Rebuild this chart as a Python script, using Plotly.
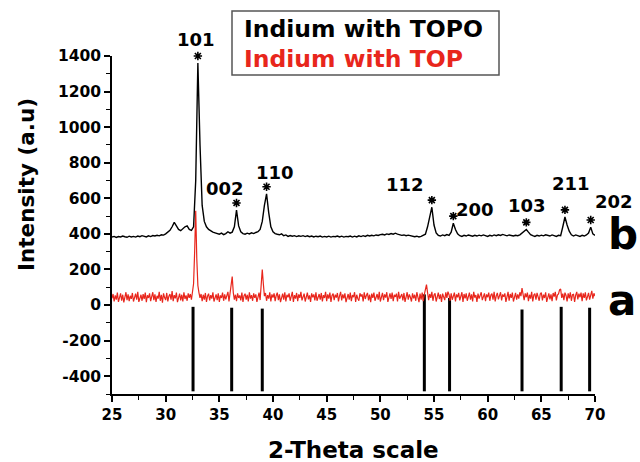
import numpy as np
import plotly.graph_objects as go

# curve b: Indium with TOPO (black), sampled every 0.2 degree from 25 to 70
topo_step = 0.2
topo = [
    382, 386, 380, 385, 383, 388, 384, 381, 387, 383,
    386, 382, 388, 384, 390, 386, 383, 389, 385, 391,
    388, 392, 389, 395, 393, 400, 408, 420, 440, 465,
    445, 425, 418, 430, 440, 445, 425, 420, 440, 700,
    1360, 900, 560, 470, 440, 425, 415, 410, 406, 402,
    398, 404, 396, 402, 412, 404, 410, 440, 534, 445,
    412, 402, 398, 404, 400, 406, 402, 408, 412, 425,
    470, 560, 625, 520, 440, 412, 402, 398, 395, 400,
    390, 394, 386, 391, 387, 390, 385, 389, 386, 390,
    385, 389, 384, 388, 383, 387, 384, 388, 382, 386,
    383, 387, 382, 386, 384, 388, 383, 387, 382, 386,
    384, 388, 382, 387, 383, 389, 385, 390, 386, 392,
    388, 392, 389, 394, 391, 396, 398, 394, 400, 397,
    402, 398, 404, 399, 396, 392, 394, 390, 393, 389,
    388, 384, 387, 383, 386, 390, 398, 440, 500, 550,
    450, 405, 392, 388, 394, 390, 396, 392, 410, 460,
    425, 400, 390, 386, 392, 388, 394, 390, 387, 392,
    388, 393, 389, 394, 390, 386, 392, 388, 394, 390,
    395, 391, 397, 393, 389, 394, 390, 388, 392, 390,
    395, 405, 418, 425, 410, 396, 390, 386, 392, 388,
    393, 389, 395, 391, 388, 394, 390, 386, 392, 390,
    440, 495, 450, 415, 395, 388, 394, 390, 386, 392,
    388, 394, 405, 438, 400, 392,
]

# curve a: Indium with TOP (red), sampled every 0.1 degree from 25 to 70
top_step = 0.1
top = [
    38, 62, 20, 55, 30, 70, 18, 48, 66, 25,
    58, 15, 44, 72, 28, 60, 22, 52, 35, 68,
    20, 50, 64, 30, 75, 18, 46, 58, 24, 62,
    34, 70, 16, 55, 40, 66, 22, 48, 72, 28,
    60, 18, 52, 36, 74, 24, 58, 14, 66, 42,
    28, 68, 20, 50, 62, 30, 78, 22, 56, 38,
    70, 16, 48, 64, 26, 58, 20, 72, 34, 54,
    24, 66, 40, 62, 30, 80, 120, 300, 530, 260,
    110, 70, 40, 62, 22, 58, 30, 68, 18, 50,
    64, 26, 56, 36, 72, 20, 48, 60, 28, 66,
    18, 54, 40, 70, 24, 60, 32, 52, 74, 20,
    62, 110, 160, 70, 30, 58, 22, 66, 40, 54,
    26, 70, 18, 52, 64, 30, 58, 20, 72, 36,
    56, 24, 66, 40, 60, 18, 50, 70, 28, 95,
    200, 120, 50, 68, 24, 56, 36, 72, 20, 60,
    42, 66, 22, 54, 70, 28, 60, 16, 50, 64,
    30, 72, 20, 58, 44, 66, 24, 52, 74, 18,
    56, 36, 68, 22, 60, 40, 74, 26, 50, 64,
    20, 58, 70, 32, 54, 18, 66, 44, 60, 26,
    72, 24, 50, 62, 30, 68, 20, 56, 40, 74,
    22, 60, 36, 70, 18, 54, 64, 28, 58, 42,
    68, 20, 52, 74, 26, 60, 38, 66, 16, 50,
    62, 30, 70, 22, 56, 44, 72, 18, 58, 36,
    24, 66, 48, 60, 20, 72, 34, 54, 68, 26,
    58, 16, 64, 40, 70, 24, 52, 62, 30, 74,
    20, 56, 68, 28, 60, 42, 72, 18, 50, 66,
    34, 70, 22, 58, 46, 64, 20, 74, 36, 54,
    62, 26, 68, 18, 56, 72, 30, 60, 44, 20,
    66, 38, 58, 24, 72, 50, 16, 64, 30, 70,
    22, 60, 90, 115, 70, 28, 62, 40, 74, 24,
    56, 66, 20, 52, 70, 34, 60, 18, 64, 46,
    28, 72, 40, 75, 58, 24, 66, 30, 54, 70,
    20, 60, 44, 68, 26, 56, 72, 18, 62, 38,
    66, 24, 54, 70, 30, 60, 20, 74, 42, 56,
    18, 64, 36, 58, 72, 28, 50, 66, 22, 60,
    44, 70, 24, 56, 64, 30, 74, 20, 52, 68,
    32, 58, 72, 26, 60, 46, 66, 18, 56, 74,
    24, 62, 40, 70, 20, 54, 68, 30, 60, 36,
    72, 50, 95, 60, 28, 66, 44, 70, 22, 58,
    36, 74, 20, 56, 64, 30, 68, 46, 24, 62,
    70, 26, 58, 40, 72, 18, 54, 66, 32, 60,
    22, 68, 48, 74, 26, 56, 62, 85, 90, 40,
    64, 28, 70, 54, 20, 66, 38, 72, 24, 58,
    60, 18, 56, 74, 32, 64, 44, 70, 22, 66,
    40, 72, 26, 58, 68, 30, 62, 80, 36, 66,
    50,
]

# reference pattern sticks
stick_pos = [32.55, 36.15, 39.0, 54.1, 56.45, 63.2, 66.85, 69.5]
stick_top = [-10, -15, -20, 60, 40, -25, -10, -15]
stick_bottom = -485

# hkl peak markers on curve b
star_pos = [33.0, 36.6, 39.4, 54.8, 56.8, 63.6, 67.2, 69.6]
star_gap = 40  # intensity units between a peak top and its star
hkl_labels = ["101", "002", "110", "112", "200", "103", "211", "202"]
# label centres in page pixels (x, y)
hkl_px = [(196, 39), (225, 188), (275, 172), (405, 185), (475, 209), (527, 205), (571, 183), (614, 201)]

# axis ticks
x_ticks = [25, 30, 35, 40, 45, 50, 55, 60, 65, 70]
y_ticks = [-400, -200, 0, 200, 400, 600, 800, 1000, 1200, 1400]
y_tick_text = ["-400", "-200", "0", "200", "400", "600", "800", "1000", "1200", "1400"]

W, H = 640, 462
ML, MR, MT, MB = 112, 45, 56, 68
PW, PH = W - ML - MR, H - MT - MB


def px2paper(px, py):
    return (px - ML) / PW, (H - MB - py) / PH


FONT = "DejaVu Sans, Verdana, sans-serif"
RED = "#e8261c"

topo_x = np.round(25 + topo_step * np.arange(len(topo)), 2)
top_x = np.round(25 + top_step * np.arange(len(top)), 2)

fig = go.Figure()

sx, sy = [], []
for p, t in zip(stick_pos, stick_top):
    sx += [p, p, None]
    sy += [stick_bottom, t, None]
fig.add_trace(go.Scatter(x=sx, y=sy, mode="lines", line=dict(color="black", width=3),
                         showlegend=False, hoverinfo="skip"))
fig.add_trace(go.Scatter(x=top_x, y=top, mode="lines", line=dict(color=RED, width=1.2),
                         name="Indium with TOP", showlegend=False))
fig.add_trace(go.Scatter(x=topo_x, y=topo, mode="lines", line=dict(color="black", width=1.4),
                         name="Indium with TOPO", showlegend=False))

topo_arr = np.array(topo, dtype=float)
star_y = [float(np.interp(sp, topo_x, topo_arr)) + star_gap for sp in star_pos]
fig.add_trace(go.Scatter(x=star_pos, y=star_y, mode="markers", cliponaxis=False,
                         marker=dict(symbol="asterisk-open", size=7, color="black",
                                     line=dict(color="black", width=1.6)),
                         showlegend=False, hoverinfo="skip"))

annotations = []
for lab, (px, py) in zip(hkl_labels, hkl_px):
    ax, ay = px2paper(px, py)
    annotations.append(dict(x=ax, y=ay, xref="paper", yref="paper", text="<b>%s</b>" % lab,
                            showarrow=False, xanchor="center", yanchor="middle",
                            font=dict(family=FONT, size=18, color="black")))

for letter, (px, py) in zip(["b", "a"], [(623, 234), (622, 300)]):
    ax, ay = px2paper(px, py)
    annotations.append(dict(x=ax, y=ay, xref="paper", yref="paper", text="<b>%s</b>" % letter,
                            showarrow=False, xanchor="center", yanchor="middle",
                            font=dict(family=FONT, size=42, color="black")))

# legend drawn as a text box
for txt, col, py in [("Indium with TOPO", "black", 29), ("Indium with TOP", RED, 59)]:
    ax, ay = px2paper(242, py)
    annotations.append(dict(x=ax, y=ay, xref="paper", yref="paper", text="<b>%s</b>" % txt,
                            showarrow=False, xanchor="left", yanchor="middle",
                            font=dict(family=FONT, size=23.5, color=col)))

# axis titles
ax, ay = px2paper(353, 450)
annotations.append(dict(x=ax, y=ay, xref="paper", yref="paper", text="<b>2-Theta scale</b>",
                        showarrow=False, xanchor="center", yanchor="middle",
                        font=dict(family=FONT, size=23, color="black")))
ax, ay = px2paper(27, 185)
annotations.append(dict(x=ax, y=ay, xref="paper", yref="paper", text="<b>Intensity (a.u)</b>",
                        showarrow=False, xanchor="center", yanchor="middle", textangle=-90,
                        font=dict(family=FONT, size=21.5, color="black")))

bx0, by1 = px2paper(232, 11)
bx1, by0 = px2paper(499, 75)
shapes = [dict(type="rect", xref="paper", yref="paper", x0=bx0, x1=bx1, y0=by0, y1=by1,
               line=dict(color="#555555", width=1.5), fillcolor="rgba(0,0,0,0)")]

fig.update_layout(
    width=W, height=H,
    margin=dict(l=ML, r=MR, t=MT, b=MB),
    paper_bgcolor="white", plot_bgcolor="white",
    annotations=annotations, shapes=shapes,
    showlegend=False,
)
fig.update_xaxes(range=[25, 70], tickmode="array", tickvals=x_ticks,
                 ticktext=["<b>%d</b>" % v for v in x_ticks],
                 ticks="outside", ticklen=6, tickwidth=1.5, tickcolor="black",
                 showline=True, linecolor="black", linewidth=1.5, showgrid=False, zeroline=False,
                 tickfont=dict(family=FONT, size=15, color="black"),
                 minor=dict(dtick=2.5, tick0=25, ticks="outside", ticklen=4, tickwidth=1.2, tickcolor="black"))
fig.update_yaxes(range=[-500, 1400], tickmode="array", tickvals=y_ticks,
                 ticktext=["<b>%s</b>" % t for t in y_tick_text],
                 ticks="outside", ticklen=6, tickwidth=1.5, tickcolor="black",
                 showline=True, linecolor="black", linewidth=1.5, showgrid=False, zeroline=False,
                 tickfont=dict(family=FONT, size=15.5, color="black"),
                 minor=dict(dtick=100, tick0=-500, ticks="outside", ticklen=4, tickwidth=1.2, tickcolor="black"))

fig.write_html("out.html", config={"displayModeBar": False},
               post_script="document.body.style.margin='0';document.body.style.overflow='hidden';")
